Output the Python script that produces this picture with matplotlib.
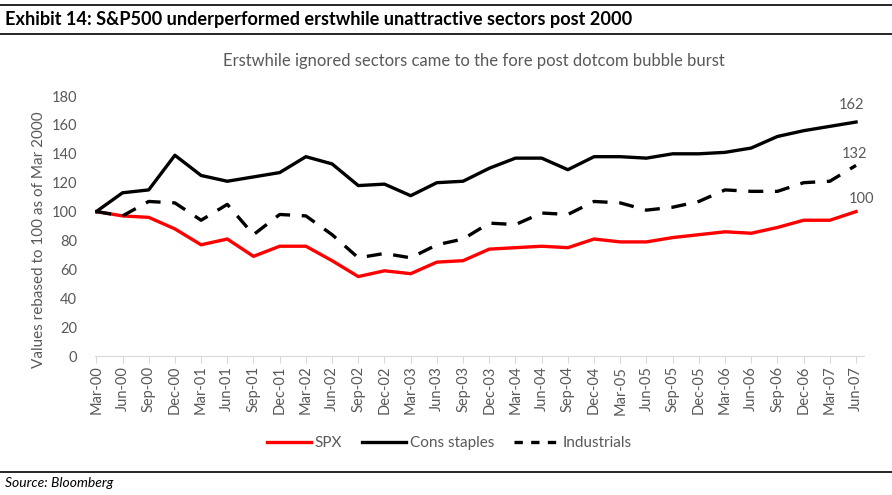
import matplotlib
matplotlib.use("Agg")
import matplotlib.pyplot as plt
from matplotlib.lines import Line2D

# ------------------- DATA ------------------- #
quarters = ["Mar-00", "Jun-00", "Sep-00", "Dec-00", "Mar-01", "Jun-01", "Sep-01", "Dec-01",
            "Mar-02", "Jun-02", "Sep-02", "Dec-02", "Mar-03", "Jun-03", "Sep-03", "Dec-03",
            "Mar-04", "Jun-04", "Sep-04", "Dec-04", "Mar-05", "Jun-05", "Sep-05", "Dec-05",
            "Mar-06", "Jun-06", "Sep-06", "Dec-06", "Mar-07", "Jun-07"]

spx = [100, 97, 96, 88, 77, 81, 69, 76, 76, 66, 55, 59, 57, 65, 66, 74,
       75, 76, 75, 81, 79, 79, 82, 84, 86, 85, 89, 94, 94, 100]
cons_staples = [100, 113, 115, 139, 125, 121, 124, 127, 138, 133, 118, 119, 111, 120, 121, 130,
                137, 137, 129, 138, 138, 137, 140, 140, 141, 144, 152, 156, 159, 162]
industrials = [100, 97, 107, 106, 94, 105, 84, 98, 97, 84, 68, 71, 68, 77, 81, 92,
               91, 99, 98, 107, 106, 101, 103, 107, 115, 114, 114, 120, 121, 132]

# ------------------- STYLE ------------------- #
plt.rcParams["font.family"] = ["Lato", "DejaVu Sans"]
grey = "#595959"
lw = 2.4

fig = plt.figure(figsize=(8.92, 4.95), dpi=100)
ax = fig.add_axes([0.1065, 0.2808, 0.862, 0.5252])

x = list(range(len(quarters)))
ax.plot(x, spx, color="#ff0000", lw=lw, solid_joinstyle="round")
ax.plot(x, cons_staples, color="black", lw=lw, solid_joinstyle="round")
ax.plot(x, industrials, color="black", lw=lw, linestyle=(0, (4.5, 3.5)), dash_capstyle="butt")

# end labels
for series, off in [(cons_staples, (-3, 12)), (industrials, (-1, 8)), (spx, (4, 9))]:
    ax.annotate(str(series[-1]), (x[-1], series[-1]), xytext=off, textcoords="offset points",
                ha="center", va="center", fontsize=10.5, color=grey)

ax.set_ylim(0, 180)
ax.set_yticks(range(0, 181, 20))
ax.set_xlim(-0.05, 29.3)
ax.set_xticks(x)
ax.set_xticklabels(quarters, rotation=90, fontsize=10.5, color=grey)
ax.tick_params(axis="x", length=5, color="#d9d9d9", pad=2)
ax.tick_params(axis="y", length=0, labelsize=10.5, labelcolor=grey, pad=13)
for s in ["top", "right", "left"]:
    ax.spines[s].set_visible(False)
ax.spines["bottom"].set_color("#d9d9d9")
ax.set_ylabel("Values rebased to 100 as of Mar 2000", fontsize=11, color=grey)
ax.yaxis.set_label_coords(-0.064, 0.446)

# title bar
fig.add_artist(Line2D([0, 1], [1 - 5 / 495, 1 - 5 / 495], color="black", lw=1.2))
fig.add_artist(Line2D([0, 1], [1 - 34 / 495, 1 - 34 / 495], color="black", lw=1.2))
fig.text(0.006, 1 - 19.5 / 495, "Exhibit 14: S&P500 underperformed erstwhile unattractive sectors post 2000",
         fontsize=13.1, fontweight="bold", va="center", ha="left")
fig.text(474 / 892, 1 - 61 / 495, "Erstwhile ignored sectors came to the fore post dotcom bubble burst",
         fontsize=12, color=grey, va="center", ha="center")

# legend
handles = [Line2D([], [], color="#ff0000", lw=lw),
           Line2D([], [], color="black", lw=lw),
           Line2D([], [], color="black", lw=lw, linestyle=(0, (2.5, 2.5)))]
leg = fig.legend(handles, ["SPX", "Cons staples", "Industrials"], loc="center",
                 bbox_to_anchor=(449 / 892, 1 - 443 / 495), ncol=3, frameon=False, fontsize=11,
                 handlelength=2.9, handletextpad=0.25, columnspacing=1.3)
for t in leg.get_texts():
    t.set_color(grey)

# source
fig.add_artist(Line2D([0, 1], [1 - 472 / 495, 1 - 472 / 495], color="black", lw=1.2))
fig.text(0.006, 1 - 483 / 495, "Source: Bloomberg", fontsize=10, style="italic", va="center", ha="left")

fig.savefig("out.png", dpi=100)
